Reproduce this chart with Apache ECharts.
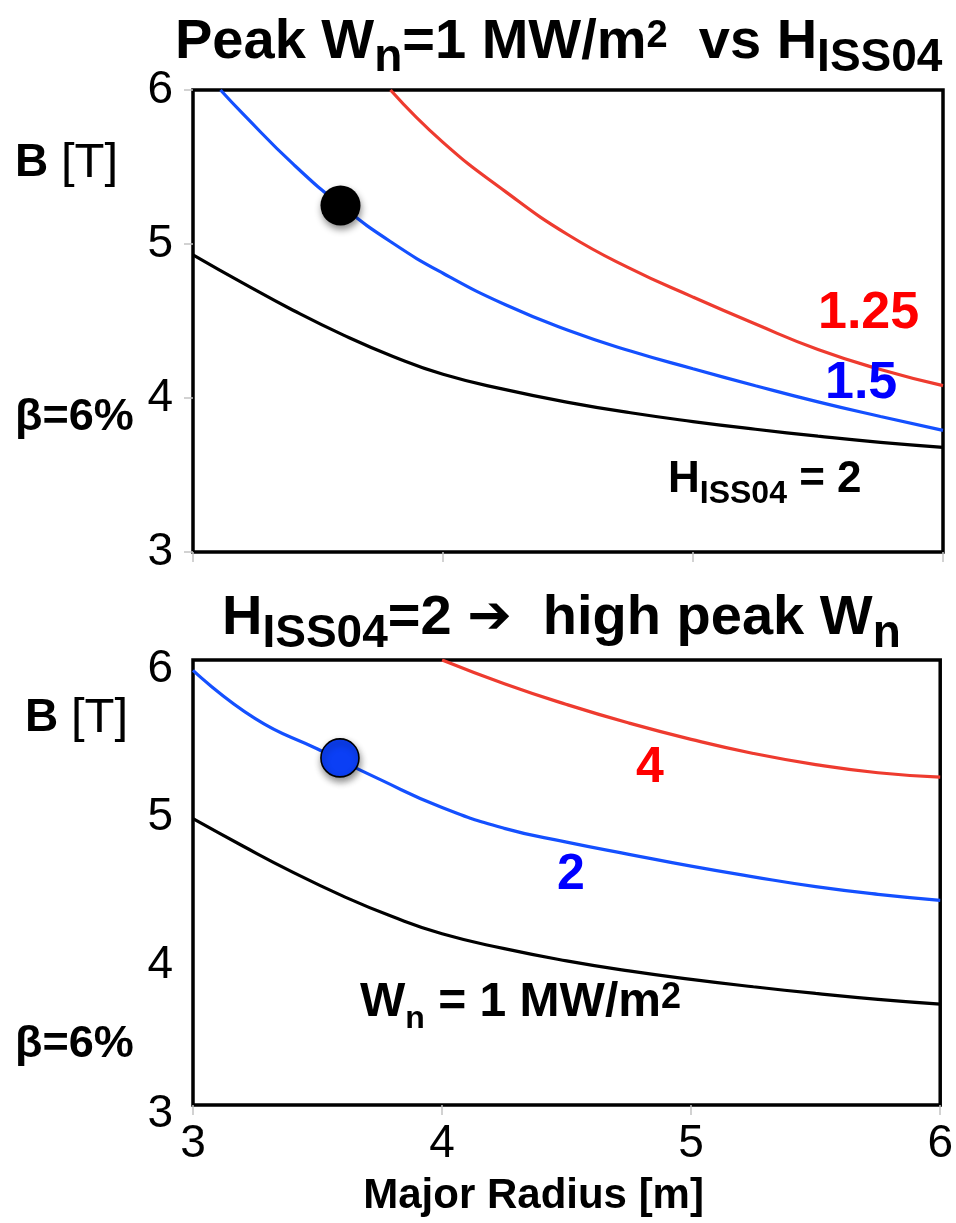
<!DOCTYPE html>
<html>
<head>
<meta charset="utf-8">
<script src="https://cdn.jsdelivr.net/npm/echarts@6/dist/echarts.min.js"></script>
<style>
  html, body { margin: 0; padding: 0; background: #fff; }
  #chart { width: 956px; height: 1223px; }
</style>
</head>
<body>
<div id="chart"></div>
<script>
// Major radius R [m] and toroidal field B [T] along each curve (beta = 6%)

// H_ISS04 = 2 at peak Wn = 1 MW/m^2 (shared by both panels)
const radiusH2 = [3.0, 3.2, 3.4, 3.6, 3.8, 4.0, 4.25, 4.5, 4.75, 5.0, 5.25, 5.5, 5.75, 6.0];
const fieldH2  = [4.93, 4.746, 4.57, 4.41, 4.27, 4.154, 4.054, 3.972, 3.904, 3.847, 3.797, 3.752, 3.712, 3.68];

// H_ISS04 = 1.5 at peak Wn = 1 MW/m^2
const radiusH15 = [3.11, 3.2, 3.4, 3.6, 3.8, 4.0, 4.25, 4.5, 4.75, 5.0, 5.25, 5.5, 5.75, 6.0];
const fieldH15  = [6.0, 5.845, 5.52, 5.24, 5.005, 4.81, 4.605, 4.44, 4.305, 4.19, 4.08, 3.975, 3.88, 3.79];

// H_ISS04 = 1.25 at peak Wn = 1 MW/m^2
const radiusH125 = [3.79, 4.0, 4.25, 4.5, 4.75, 5.0, 5.25, 5.5, 5.75, 6.0];
const fieldH125  = [6.0, 5.66, 5.34, 5.06, 4.84, 4.655, 4.48, 4.315, 4.185, 4.08];

// H_ISS04 = 2 at peak Wn = 2 MW/m^2
const radiusWn2 = [3.0, 3.25, 3.5, 3.75, 4.0, 4.25, 4.5, 4.75, 5.0, 5.25, 5.5, 5.75, 6.0];
const fieldWn2  = [5.93, 5.605, 5.40, 5.195, 5.005, 4.865, 4.772, 4.69, 4.61, 4.538, 4.472, 4.42, 4.38];

// H_ISS04 = 2 at peak Wn = 4 MW/m^2
const radiusWn4 = [4.0, 4.25, 4.5, 4.75, 5.0, 5.25, 5.5, 5.75, 6.0];
const fieldWn4  = [6.0, 5.84, 5.70, 5.575, 5.465, 5.37, 5.295, 5.24, 5.21];

// Reference design point on each panel [R, B]
const designTop    = [3.59, 5.25];
const designBottom = [3.59, 5.34];

// Axis ranges and tick step
const radiusRange = [3, 6];
const fieldRange  = [3, 6];
const tickStep = 1;

const zip = (xs, ys) => xs.map((x, i) => [x, ys[i]]);

const FONT = '"Liberation Sans", Arial, Helvetica, sans-serif';
const RED_LINE = '#ee3b2f';
const BLUE_LINE = '#1450ff';
const RED_TEXT = '#ff0000';
const BLUE_TEXT = '#0000ff';

const chart = echarts.init(document.getElementById('chart'), null, { renderer: 'canvas' });

function frameGrid(top, height, width) {
  return {
    left: 193, top: top, width: width, height: height,
    show: true, borderColor: '#000', borderWidth: 3.5, backgroundColor: '#fff'
  };
}

function xAxisFor(gridIndex, showLabels) {
  return {
    type: 'value', gridIndex: gridIndex,
    min: radiusRange[0], max: radiusRange[1], interval: tickStep,
    axisLine: { show: false },
    axisTick: { show: true, inside: false, length: 10, lineStyle: { color: '#c4c4c4', width: 1.5 } },
    splitLine: { show: false },
    axisLabel: { show: showLabels, color: '#000', fontSize: 46, fontFamily: FONT, margin: 16 },
    name: showLabels ? 'Major Radius [m]' : '',
    nameLocation: 'middle', nameGap: 70,
    nameTextStyle: { color: '#000', fontSize: 42, fontWeight: 'bold', fontFamily: FONT, padding: [0, 66, 0, 0] }
  };
}

function yAxisFor(gridIndex, dropLabel, showTicks) {
  return {
    type: 'value', gridIndex: gridIndex,
    min: fieldRange[0], max: fieldRange[1], interval: tickStep,
    axisLine: { show: false },
    axisTick: { show: showTicks, length: 9, lineStyle: { color: '#c4c4c4', width: 1.5 } },
    splitLine: { show: false },
    axisLabel: {
      margin: 20,
      formatter: '{v|{value}}',
      rich: { v: { color: '#000', fontSize: 46, fontFamily: FONT, padding: [dropLabel * 2, 0, 0, 0] } }
    }
  };
}

function curve(xIdx, data, color) {
  return {
    type: 'line', xAxisIndex: xIdx, yAxisIndex: xIdx,
    data: data, showSymbol: false, smooth: 0.5,
    lineStyle: { color: color, width: 3.2 },
    silent: true, z: 3
  };
}

function dot(xIdx, point, fill, size, border) {
  return {
    type: 'scatter', xAxisIndex: xIdx, yAxisIndex: xIdx,
    data: [point], symbolSize: size, z: 5,
    itemStyle: {
      color: fill, opacity: 1, borderColor: '#000', borderWidth: border,
      shadowBlur: 7, shadowColor: 'rgba(0,0,0,0.45)', shadowOffsetX: 1, shadowOffsetY: 4
    }
  };
}

// Text helpers: main / subscript / superscript tokens around a common middle line
function richSet(size, subSize, supSize, color, regSize) {
  const drop = size * 0.22;
  const subShift = 2 * (size * 0.3465 + drop - subSize * 0.3465);
  const capTop = size * 0.3465 - size * 0.716;
  const supBase = capTop + supSize * 0.716;
  const supShift = -2 * (supBase - supSize * 0.3465);
  return {
    m: { fontSize: size, fontWeight: 'bold', fontFamily: FONT, fill: color, verticalAlign: 'middle' },
    r: { fontSize: regSize || size, fontWeight: 'normal', fontFamily: FONT, fill: color, verticalAlign: 'middle' },
    s: { fontSize: subSize, fontWeight: 'bold', fontFamily: FONT, fill: color, verticalAlign: 'middle', padding: [subShift, 0, 0, 0] },
    p: { fontSize: supSize, fontWeight: 'bold', fontFamily: FONT, fill: color, verticalAlign: 'middle', padding: [0, 0, supShift, 0] },
    a: { fontSize: size * 0.95, fontWeight: 'bold', fontFamily: '"DejaVu Sans", ' + FONT, fill: color, verticalAlign: 'middle' }
  };
}

function textAt(x, y, text, rich) {
  return {
    type: 'text', x: x, y: y, silent: true, z: 10,
    style: { text: text, align: 'left', verticalAlign: 'middle', rich: rich }
  };
}

const titleRich = richSet(56, 46, 38, '#000');
const axisRich = richSet(46, 32, 28, '#000', 49);
const betaRich = richSet(45, 30, 26, '#000');
const noteRich = richSet(48, 32, 36, '#000');
const hRich = richSet(44, 32, 28, '#000');

const option = {
  animation: false,
  backgroundColor: '#fff',
  grid: [frameGrid(90, 462, 750), frameGrid(660, 445, 752)],
  xAxis: [xAxisFor(0, false), xAxisFor(1, true)],
  yAxis: [yAxisFor(0, 0, true), yAxisFor(1, 9, false)],
  series: [
    curve(0, zip(radiusH2, fieldH2), '#000'),
    curve(0, zip(radiusH15, fieldH15), BLUE_LINE),
    curve(0, zip(radiusH125, fieldH125), RED_LINE),
    dot(0, designTop, '#000', 40, 0),
    curve(1, zip(radiusH2, fieldH2), '#000'),
    curve(1, zip(radiusWn2, fieldWn2), BLUE_LINE),
    curve(1, zip(radiusWn4, fieldWn4), RED_LINE),
    dot(1, designBottom, '#0b3ff5', 38, 1.6)
  ],
  graphic: [
    textAt(175, 43, '{m|Peak W}{s|n}{m|=1 MW/m}{p|2}{m|  vs H}{s|ISS04}', titleRich),
    textAt(222, 619, '{m|H}{s|ISS04}{m|=2 }{a|➔}{m|  high peak W}{s|n}', titleRich),

    textAt(15, 163, '{m|B }{r|[T]}', axisRich),
    textAt(15, 418, '{m|β=6%}', betaRich),
    textAt(25, 718, '{m|B }{r|[T]}', axisRich),
    textAt(15, 1045, '{m|β=6%}', betaRich),

    textAt(818, 314, '{m|1.25}', richSet(52, 36, 30, RED_TEXT)),
    textAt(825, 384, '{m|1.5}', richSet(52, 36, 30, BLUE_TEXT)),
    textAt(668, 480, '{m|H}{s|ISS04}{m| = 2}', hRich),

    textAt(636, 768, '{m|4}', richSet(50, 34, 30, RED_TEXT)),
    textAt(557, 875, '{m|2}', richSet(50, 34, 30, BLUE_TEXT)),
    textAt(360, 1003, '{m|W}{s|n}{m| = 1 MW/m}{p|2}', noteRich)
  ]
};

chart.setOption(option);
</script>
</body>
</html>
